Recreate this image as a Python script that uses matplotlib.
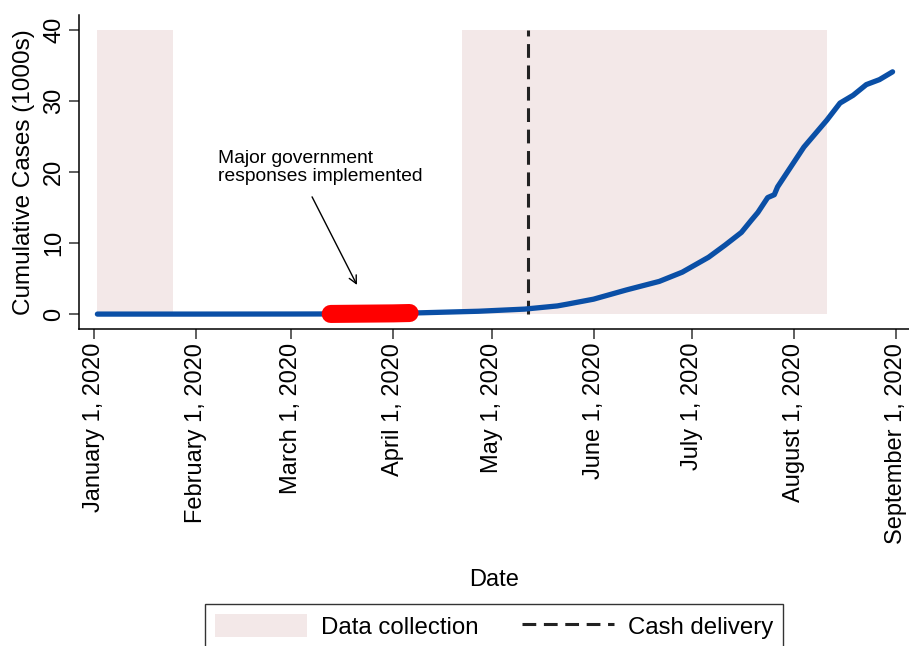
import matplotlib
matplotlib.use("Agg")
from matplotlib import pyplot as plt
from matplotlib.patches import Patch
from matplotlib.lines import Line2D
import pandas as pd

plt.rcParams['font.family'] = ['Liberation Sans', 'DejaVu Sans']

# cumulative cases (1000s)
case_dates = ['2020-01-02', '2020-02-01', '2020-03-01', '2020-03-12', '2020-04-01',
              '2020-04-07', '2020-04-27', '2020-05-11', '2020-05-21', '2020-05-24',
              '2020-06-01', '2020-06-11', '2020-06-21', '2020-06-28', '2020-07-06',
              '2020-07-11', '2020-07-16', '2020-07-19', '2020-07-21', '2020-07-24',
              '2020-07-26', '2020-07-27', '2020-07-31', '2020-08-04', '2020-08-11',
              '2020-08-15', '2020-08-19', '2020-08-23', '2020-08-27', '2020-08-31']
case_vals = [0.0, 0.0, 0.01, 0.02, 0.1,
             0.15, 0.4, 0.7, 1.15, 1.4,
             2.1, 3.4, 4.6, 5.9, 8.0,
             9.7, 11.5, 13.2, 14.3, 16.4,
             16.8, 17.9, 20.7, 23.5, 27.3,
             29.7, 30.8, 32.3, 33.0, 34.1]

# period of major government responses
resp_dates = ['2020-03-13', '2020-04-01', '2020-04-06']
resp_vals = [0.02, 0.1, 0.15]

collect_periods = [('2020-01-02', '2020-01-25'), ('2020-04-22', '2020-08-11')]
cash_date = '2020-05-12'

tick_dates = ['2020-01-01', '2020-02-01', '2020-03-01', '2020-04-01', '2020-05-01',
              '2020-06-01', '2020-07-01', '2020-08-01', '2020-09-01']
tick_labels = ['January 1, 2020', 'February 1, 2020', 'March 1, 2020', 'April 1, 2020',
               'May 1, 2020', 'June 1, 2020', 'July 1, 2020', 'August 1, 2020',
               'September 1, 2020']

shade = '#f3e8e8'
blue = '#0a4fa6'

fig = plt.figure(figsize=(9.09, 6.46), dpi=100)
ax = fig.add_axes([0.0869, 0.4907, 1 - 0.0869, 0.4861])

for s, e in collect_periods:
    ax.fill_between(pd.to_datetime([s, e]), 0, 40, color=shade, lw=0, zorder=1)

ax.vlines(pd.to_datetime(cash_date), 0, 40, colors='#222222', linestyles=(0, (4.5, 2.5)),
          lw=2.2, zorder=2)

ax.plot(pd.to_datetime(case_dates), case_vals, color=blue, lw=3.8,
        solid_capstyle='round', solid_joinstyle='round', zorder=3)
ax.plot(pd.to_datetime(resp_dates), resp_vals, color='#ff0000', lw=13,
        solid_capstyle='round', zorder=4)

ax.text(pd.Timestamp('2020-02-07 18:00'), 20.6, 'Major government\nresponses implemented',
        fontsize=13.9, ha='left', va='center', linespacing=1.05)
ax.annotate('', xy=(pd.Timestamp('2020-03-21'), 4.1), xytext=(pd.Timestamp('2020-03-07 08:00'), 16.5),
            arrowprops=dict(arrowstyle='->', color='black', lw=1, shrinkA=0, shrinkB=0,
                            mutation_scale=14))

ax.set_xlim(pd.Timestamp('2020-01-01') - pd.Timedelta(days=4.6),
            pd.Timestamp('2020-01-01') + pd.Timedelta(days=248))
ax.set_ylim(-2.1, 42.1)

ax.set_xticks(pd.to_datetime(tick_dates))
ax.set_xticklabels(tick_labels, rotation=90, fontsize=17)
ax.set_yticks([0, 10, 20, 30, 40])
ax.set_yticklabels(['0', '10', '20', '30', '40'], rotation=90, va='center', fontsize=17)
ax.tick_params(length=7, width=1.1, color='#333333', pad=3)

ax.spines['top'].set_visible(False)
ax.spines['right'].set_visible(False)
ax.spines['left'].set_linewidth(1.1)
ax.spines['bottom'].set_linewidth(1.1)

ax.set_ylabel('Cumulative Cases (1000s)', fontsize=17.5, labelpad=6)
ax.set_xlabel('Date', fontsize=17, labelpad=18)

handles = [Patch(facecolor=shade, edgecolor='none', label='Data collection'),
           Line2D([0], [0], color='#222222', lw=2.2, ls=(0, (4.5, 2.5)), label='Cash delivery')]
leg = fig.legend(handles=handles, loc='upper center', bbox_to_anchor=(0.5435, 0.065),
                 ncol=2, fontsize=17.3, frameon=True, fancybox=False, edgecolor='black',
                 handlelength=3.83, handleheight=1.1, handletextpad=0.58, columnspacing=1.8,
                 borderpad=0.42, borderaxespad=0)
leg.get_frame().set_linewidth(1.0)

fig.savefig('out.png', dpi=100)
